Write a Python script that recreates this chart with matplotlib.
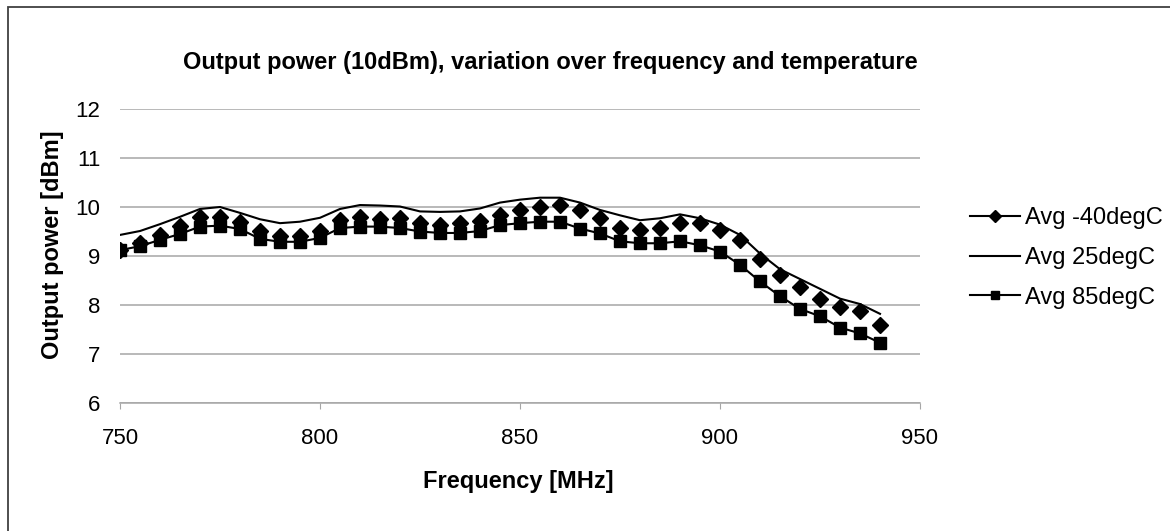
import matplotlib
matplotlib.use("Agg")
import matplotlib.pyplot as plt
from matplotlib.lines import Line2D
from matplotlib.patches import Rectangle

plt.rcParams['font.family'] = ['Liberation Sans', 'DejaVu Sans']

freq_mhz = [750, 755, 760, 765, 770, 775, 780, 785, 790, 795,
            800, 805, 810, 815, 820, 825, 830, 835, 840, 845,
            850, 855, 860, 865, 870, 875, 880, 885, 890, 895,
            900, 905, 910, 915, 920, 925, 930, 935, 940]

avg_m40 = [9.12, 9.26, 9.43, 9.62, 9.79, 9.80, 9.69, 9.52, 9.40, 9.40,
           9.52, 9.73, 9.80, 9.75, 9.78, 9.67, 9.63, 9.68, 9.71, 9.84,
           9.93, 10.00, 10.05, 9.93, 9.77, 9.58, 9.54, 9.58, 9.67, 9.67,
           9.54, 9.33, 8.94, 8.61, 8.36, 8.13, 7.95, 7.87, 7.60]

avg_25 = [9.43, 9.51, 9.65, 9.80, 9.96, 10.00, 9.88, 9.75, 9.67, 9.70,
          9.78, 9.96, 10.04, 10.03, 10.01, 9.91, 9.90, 9.91, 9.97, 10.09,
          10.15, 10.19, 10.19, 10.09, 9.94, 9.83, 9.73, 9.77, 9.85, 9.77,
          9.64, 9.43, 9.05, 8.73, 8.53, 8.33, 8.13, 8.02, 7.82]

avg_85 = [9.12, 9.20, 9.33, 9.45, 9.60, 9.62, 9.55, 9.35, 9.29, 9.29,
          9.37, 9.57, 9.60, 9.60, 9.57, 9.50, 9.47, 9.47, 9.51, 9.63,
          9.67, 9.70, 9.70, 9.56, 9.46, 9.30, 9.26, 9.26, 9.30, 9.22,
          9.09, 8.82, 8.48, 8.18, 7.92, 7.77, 7.54, 7.42, 7.23]

series_labels = ["Avg -40degC", "Avg 25degC", "Avg 85degC"]
x_ticks = [750, 800, 850, 900, 950]
y_ticks = [6, 7, 8, 9, 10, 11, 12]

W, H = 1170, 531
fig = plt.figure(figsize=(W / 100, H / 100), dpi=100)
ax = fig.add_axes([120 / W, 1 - 403 / H, 800 / W, 294 / H])

# chart-area border (only left and top edges show in the reference)
fig.patches.append(Rectangle((8 / W, -0.1), 1.2, 1.1 - 7 / H,
                             transform=fig.transFigure, fill=False,
                             edgecolor='#404040', linewidth=1.3))

ax.plot(freq_mhz, avg_25, color='black', linewidth=1.5, zorder=3)
ax.plot(freq_mhz, avg_85, color='black', linewidth=1.5, marker='s',
        markersize=8, zorder=3)
ax.plot(freq_mhz, avg_m40, linestyle='none', color='black', marker='D',
        markersize=8, zorder=4)

ax.set_xlim(750, 950)
ax.set_ylim(6, 12)
ax.set_xticks(x_ticks)
ax.set_yticks(y_ticks)
ax.grid(axis='y', color='#a6a6a6', linewidth=1.1)
ax.set_axisbelow(True)
for side in ('top', 'right', 'left'):
    ax.spines[side].set_visible(False)
ax.spines['bottom'].set_color('#a6a6a6')
ax.spines['bottom'].set_linewidth(1.1)
ax.tick_params(axis='x', direction='out', length=4, color='#a6a6a6',
               labelsize=16, pad=14)
ax.tick_params(axis='y', length=0, labelsize=16, pad=14)

ax.set_xlabel("Frequency [MHz]", fontsize=17, fontweight='bold')
ax.xaxis.set_label_coords(0.4975, -0.228)
ax.set_ylabel("Output power [dBm]", fontsize=17, fontweight='bold')
ax.yaxis.set_label_coords(-0.07, 0.54)

fig.text(550 / W, 1 - 62 / H,
         "Output power (10dBm), variation over frequency and temperature",
         ha='center', va='center', fontsize=17, fontweight='bold')

handles = [
    Line2D([], [], color='black', linewidth=1.5, marker='D', markersize=6),
    Line2D([], [], color='black', linewidth=1.5),
    Line2D([], [], color='black', linewidth=1.5, marker='s', markersize=6),
]
fig.legend(handles, series_labels, loc='center left',
           bbox_to_anchor=(970 / W, 1 - 258 / H), frameon=False,
           fontsize=17, handlelength=2.1, handletextpad=0.25,
           labelspacing=0.75, borderpad=0, borderaxespad=0)

fig.savefig("out.png", dpi=100)
